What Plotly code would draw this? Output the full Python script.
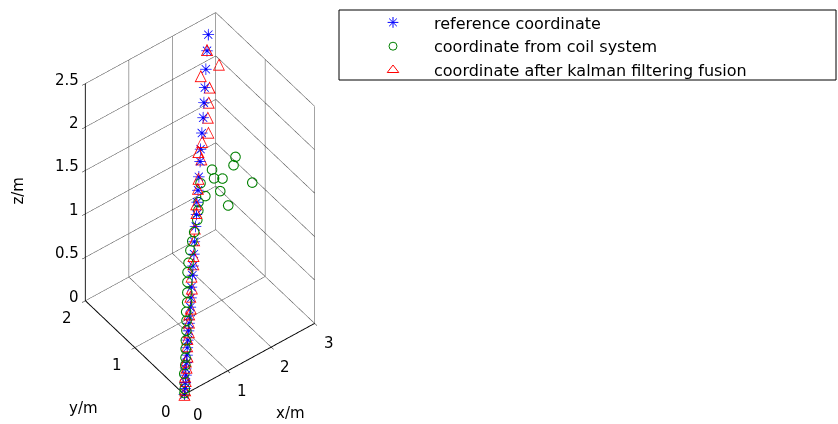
import plotly.graph_objects as go

# ---------------- data ----------------
series_names = ["reference coordinate",
                "coordinate from coil system",
                "coordinate after kalman filtering fusion"]

# reference coordinate (blue asterisks)
ref_x = [0.00, 0.05, 0.09, 0.15, 0.19, 0.24, 0.30, 0.35, 0.41, 0.48, 0.54, 0.59, 0.66,
         0.73, 0.81, 0.90, 0.97, 1.06, 1.15, 1.27, 1.36, 1.45, 1.54, 1.64, 1.76, 1.85,
         1.97, 2.09, 2.20, 2.31, 2.45, 2.59, 2.71]
ref_y = [0.00, 0.03, 0.06, 0.10, 0.14, 0.17, 0.21, 0.25, 0.29, 0.34, 0.38, 0.42, 0.46,
         0.51, 0.57, 0.63, 0.68, 0.74, 0.81, 0.89, 0.95, 1.02, 1.08, 1.15, 1.23, 1.30,
         1.38, 1.46, 1.54, 1.62, 1.72, 1.82, 1.90]
ref_z = [0.00, 0.04, 0.08, 0.13, 0.17, 0.21, 0.26, 0.31, 0.36, 0.42, 0.47, 0.52, 0.58,
         0.64, 0.71, 0.79, 0.85, 0.93, 1.01, 1.11, 1.19, 1.27, 1.35, 1.44, 1.54, 1.62,
         1.73, 1.83, 1.93, 2.03, 2.15, 2.27, 2.38]

# coordinate from coil system (green circles)
coil_x = [0.01, 0.04, 0.08, 0.13, 0.20, 0.25, 0.31, 0.36, 0.44, 0.50, 0.55, 0.63, 0.69,
          0.76, 0.82, 0.90, 1.01, 1.11, 1.20, 1.34, 1.42, 1.47, 1.65, 1.63, 2.04, 1.97,
          2.65, 2.09, 1.93, 1.94, 2.39, 2.48]
coil_y = [0.01, 0.03, 0.07, 0.12, 0.16, 0.20, 0.25, 0.29, 0.35, 0.40, 0.45, 0.50, 0.55,
          0.61, 0.66, 0.71, 0.77, 0.82, 0.86, 0.92, 0.97, 1.01, 1.03, 1.11, 0.91, 1.01,
          0.96, 1.07, 1.10, 1.15, 1.11, 1.15]
coil_z = [0.01, 0.04, 0.08, 0.14, 0.20, 0.25, 0.31, 0.37, 0.43, 0.50, 0.56, 0.62, 0.69,
          0.76, 0.83, 0.89, 0.97, 1.02, 1.08, 1.15, 1.21, 1.27, 1.28, 1.39, 1.13, 1.26,
          1.20, 1.34, 1.37, 1.44, 1.39, 1.44]

# coordinate after kalman filtering fusion (red triangles)
kal_x = [0.00, 0.04, 0.11, 0.13, 0.21, 0.24, 0.30, 0.36, 0.41, 0.48, 0.54, 0.60, 0.66,
         0.73, 0.81, 0.88, 0.99, 1.04, 1.16, 1.24, 1.37, 1.42, 1.55, 1.62, 1.80, 1.79,
         1.92, 2.10, 2.19, 2.30, 2.41, 2.31, 2.74, 2.59]
kal_y = [0.00, 0.02, 0.07, 0.10, 0.14, 0.18, 0.20, 0.26, 0.30, 0.33, 0.38, 0.43, 0.45,
         0.52, 0.56, 0.63, 0.69, 0.73, 0.82, 0.88, 0.96, 1.01, 1.09, 1.14, 1.24, 1.29,
         1.33, 1.36, 1.45, 1.53, 1.61, 1.70, 1.71, 1.82]
kal_z = [0.00, 0.03, 0.09, 0.12, 0.18, 0.22, 0.25, 0.32, 0.37, 0.41, 0.48, 0.53, 0.57,
         0.65, 0.70, 0.78, 0.86, 0.92, 1.02, 1.10, 1.20, 1.26, 1.36, 1.43, 1.55, 1.61,
         1.67, 1.71, 1.81, 1.91, 2.01, 2.12, 2.13, 2.28]

x_range = [0, 3]
y_range = [0, 2]
z_range = [0, 2.5]
x_ticks = [0, 1, 2, 3]
y_ticks = [0, 1, 2]
z_ticks = [0, 0.5, 1, 1.5, 2, 2.5]
x_tick_labels = ["0", "1", "2", "3"]
y_tick_labels = ["0", "1", "2"]
z_tick_labels = ["0", "0.5", "1", "1.5", "2", "2.5"]
axis_titles = ["x/m", "y/m", "z/m"]

# ---------------- styles ----------------
BLUE = "rgb(0,0,255)"
GREEN = "rgb(0,128,0)"
RED = "rgb(255,0,0)"
FONT = "DejaVu Sans"

fig = go.Figure()

# grid on the three back planes (x = max, y = max, z = min), built from the ticks
gx, gy, gz = [], [], []
x0, x1 = x_range
y0, y1 = y_range
z0, z1 = z_range
for v in y_ticks:          # plane x = x1 : verticals
    gx += [x1, x1, None]; gy += [v, v, None]; gz += [z0, z1, None]
for v in z_ticks:          # plane x = x1 : horizontals
    gx += [x1, x1, None]; gy += [y0, y1, None]; gz += [v, v, None]
for v in x_ticks:          # plane y = y1 : verticals
    gx += [v, v, None]; gy += [y1, y1, None]; gz += [z0, z1, None]
for v in z_ticks:          # plane y = y1 : horizontals
    gx += [x0, x1, None]; gy += [y1, y1, None]; gz += [v, v, None]
for v in x_ticks:          # floor z = z0 : lines along y
    gx += [v, v, None]; gy += [y0, y1, None]; gz += [z0, z0, None]
for v in y_ticks:          # floor z = z0 : lines along x
    gx += [x0, x1, None]; gy += [v, v, None]; gz += [z0, z0, None]
fig.add_trace(go.Scatter3d(
    x=gx, y=gy, z=gz, mode="lines", connectgaps=False,
    line=dict(color="rgb(70,70,70)", width=1),
    showlegend=False, hoverinfo="skip"))

fig.add_trace(go.Scatter3d(
    x=ref_x, y=ref_y, z=ref_z, mode="text", text=["✳"] * len(ref_x),
    textposition="middle center",
    textfont=dict(family=FONT, size=16, color=BLUE),
    showlegend=False, hoverinfo="skip"))
fig.add_trace(go.Scatter3d(
    x=coil_x, y=coil_y, z=coil_z, mode="markers",
    marker=dict(symbol="circle-open", size=6, color=GREEN),
    showlegend=False, hoverinfo="skip"))
fig.add_trace(go.Scatter3d(
    x=kal_x, y=kal_y, z=kal_z, mode="text", text=["△"] * len(kal_x),
    textposition="middle center",
    textfont=dict(family=FONT, size=16, color=RED),
    showlegend=False, hoverinfo="skip"))

# legend entries (2-D marker samples)
legend_symbols = ["asterisk-open", "circle-open", "triangle-up-open"]
legend_colors = [BLUE, GREEN, RED]
legend_sizes = [9, 8, 10]
for name, sym, col, sz in zip(series_names, legend_symbols, legend_colors, legend_sizes):
    fig.add_trace(go.Scatter(
        x=[None], y=[None], mode="markers", name=name,
        marker=dict(symbol=sym, size=sz, color=col, line=dict(color=col, width=1))))

# tick labels & axis titles as scene annotations
tick_font = dict(family=FONT, size=15, color="black")
ann = []
for v, lab in zip(x_ticks, x_tick_labels):
    ann.append(dict(x=v, y=0, z=0, text=lab, showarrow=False, xshift=14, yshift=-20,
                    font=tick_font))
for v, lab in zip(y_ticks, y_tick_labels):
    ann.append(dict(x=0, y=v, z=0, text=lab, showarrow=False, xshift=-18, yshift=-17,
                    font=tick_font))
for v, lab in zip(z_ticks, z_tick_labels):
    ann.append(dict(x=0, y=2, z=v, text=lab, showarrow=False, xanchor="right",
                    xshift=-4, yshift=4, font=tick_font))
ann.append(dict(x=1.5, y=0, z=0, text=axis_titles[0], showarrow=False,
                xshift=41, yshift=-54, font=tick_font))
ann.append(dict(x=0, y=1, z=0, text=axis_titles[1], showarrow=False,
                xshift=-51, yshift=-60, font=tick_font))
ann.append(dict(x=0, y=2, z=1.25, text=axis_titles[2], showarrow=False, textangle=-90,
                xshift=-67, yshift=2, font=tick_font))

axis_common = dict(showbackground=False, showgrid=False, zeroline=False,
                   showline=True, linecolor="black", linewidth=2,
                   ticks="outside", ticklen=4, tickcolor="black",
                   showticklabels=False, showspikes=False, title=dict(text=""),
                   autorange=False)

fig.update_layout(
    width=838, height=424,
    margin=dict(l=0, r=0, t=0, b=0),
    paper_bgcolor="white", plot_bgcolor="white",
    xaxis=dict(visible=False), yaxis=dict(visible=False),
    scene=dict(
        domain=dict(x=[0, 0.4774], y=[0.04, 1.0]),
        bgcolor="white",
        xaxis=dict(range=x_range, tickvals=x_ticks, **axis_common),
        yaxis=dict(range=y_range, tickvals=y_ticks, **axis_common),
        zaxis=dict(range=z_range, tickvals=z_ticks, **axis_common),
        aspectmode="manual", aspectratio=dict(x=0.804, y=0.804, z=1.536),
        camera=dict(eye=dict(x=-1.05, y=-1.385, z=1.80),
                    up=dict(x=0, y=0, z=1), center=dict(x=0, y=0, z=0),
                    projection=dict(type="orthographic")),
        annotations=ann,
    ),
    legend=dict(x=352 / 838, y=1 - 5.5 / 424, xanchor="left", yanchor="top",
                borderwidth=0, bgcolor="rgba(0,0,0,0)",
                font=dict(family=FONT, size=16, color="black"),
                itemwidth=72, tracegroupgap=0),
    showlegend=True,
    shapes=[dict(type="rect", xref="paper", yref="paper",
                 x0=339 / 838, x1=836 / 838, y0=1 - 80 / 424, y1=1 - 10 / 424,
                 line=dict(color="black", width=1), fillcolor="rgba(0,0,0,0)")],
)

fig.write_html("out.html", config={"displayModeBar": False},
               post_script="document.body.style.margin='0';")
